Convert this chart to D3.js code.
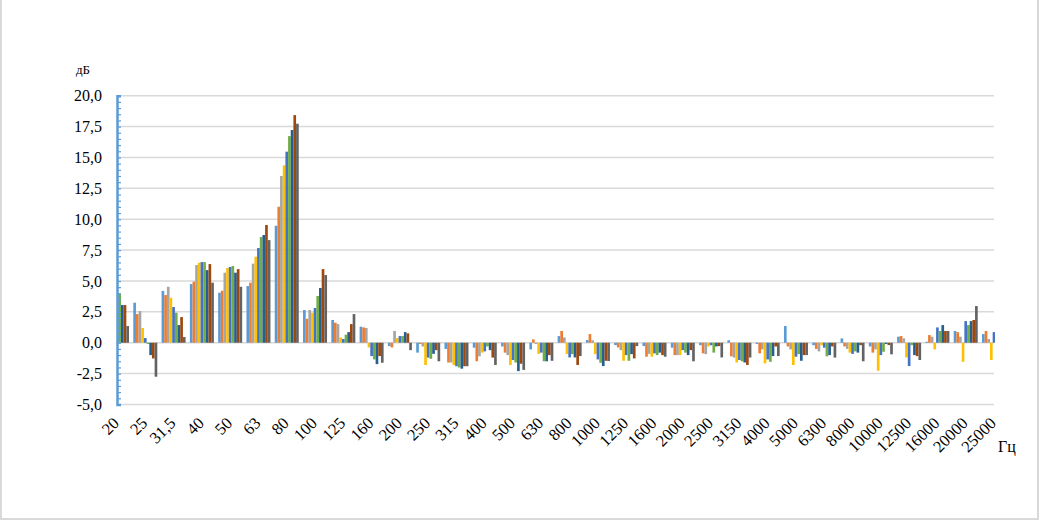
<!doctype html>
<html>
<head>
    <title>Spectrum difference</title>
    <script src="https://d3js.org/d3.v7.min.js"></script>
    <style>
      body { margin:0; background:white; }
      text { font-family:"Liberation Serif", "Times New Roman", serif; fill:#000; }
    </style>
</head>
<body>
    <script>
    var width = 1040, height = 522;

    // third-octave bands, Hz
    var freqs = ["20","25","31,5","40","50","63","80","100","125","160","200","250","315","400","500","630",
                 "800","1000","1250","1600","2000","2500","3150","4000","5000","6300","8000","10000","12500","16000","20000","25000"];

    // dB values, one array per series
    var s1 = [3.6,3.24,4.2,4.75,4.05,4.59,9.47,2.65,1.84,1.3,-0.27,-0.8,-0.5,-0.4,-0.3,-0.54,0.54,0.22,-0.19,-0.27,-0.4,-0.2,0.2,-0.1,1.35,-0.2,0.35,-0.3,0.49,0.08,0.95,0.7];
    var s2 = [3.2,2.32,3.86,4.94,4.21,4.86,11.01,1.94,1.62,1.24,-0.38,-0.1,-1.6,-1.5,-0.8,0.27,0.95,0.7,-0.38,-1.13,-1.0,-0.86,-1.1,-0.86,-0.3,-0.5,-0.3,-0.8,0.54,0.62,0.86,0.95];
    var s3 = [3.4,2.56,4.53,6.29,5.67,6.4,13.5,2.65,1.51,1.19,0.95,-0.3,-1.6,-1.1,-1.0,-0.1,0.43,0.2,-0.6,-0.9,-1.0,-0.92,-1.2,-0.54,-0.54,-0.7,-0.5,-0.54,0.35,0.49,0.49,0.3];
    var s4 = [3.0,1.19,3.64,6.48,6.05,6.96,14.36,2.43,0.43,-0.38,0.38,-1.8,-1.8,-0.8,-1.8,-0.9,-0.92,-0.92,-1.46,-1.13,-1.0,-0.3,-1.6,-1.67,-1.8,-0.2,-0.8,-2.27,-1.19,-0.54,-1.54,-1.4];
    var s5 = [3.8,0.38,2.89,6.53,6.13,7.67,15.47,2.81,0.3,-1.08,0.54,-1.2,-1.9,-0.7,-1.4,-0.8,-1.19,-1.35,-1.0,-0.86,-0.6,-0.2,-1.4,-1.35,-1.13,-0.4,-0.9,-1.0,-1.89,1.24,1.75,0.86];
    var s6 = [4.0,-0.1,2.43,6.53,6.21,8.56,16.73,3.78,0.65,-1.35,0.54,-1.3,-2.0,-0.3,-1.6,-1.5,-0.92,-1.62,-1.46,-1.0,-0.8,-0.8,-1.5,-1.54,-0.92,-1.1,-0.7,-0.73,-0.2,0.95,1.43,0.6];
    var s7 = [3.05,-1.0,1.43,5.88,5.67,8.72,17.22,4.43,0.86,-1.73,0.86,-0.9,-2.1,-0.6,-2.3,-1.5,-1.19,-1.89,-0.92,-0.8,-1.0,-0.3,-1.6,-1.08,-1.46,-1.0,-0.8,-0.1,-1.0,1.43,1.75,0.5];
    var s8 = [3.05,-1.27,2.08,6.37,5.96,9.53,18.43,5.96,1.51,-1.08,0.76,-0.6,-1.9,-1.2,-1.7,-1.0,-1.8,-1.46,-1.27,-1.0,-0.6,-0.27,-1.8,-0.3,-1.0,-0.3,-0.2,-0.19,-1.08,0.95,1.84,0.5];
    var s9 = [1.35,-2.75,0.46,4.86,4.53,8.31,17.73,5.48,2.32,-1.62,-0.6,-1.5,-1.9,-1.8,-2.2,-1.46,-1.08,-1.48,-0.27,-1.13,-1.5,-1.19,-1.2,-1.08,-1.0,-1.2,-1.5,-0.94,-1.4,0.95,2.97,0.4];

    var yTicks = [-5,-2.5,0,2.5,5,7.5,10,12.5,15,17.5,20];
    var colors = ["#5B9BD5","#ED7D31","#A5A5A5","#FFC000","#4472C4","#70AD47","#255E91","#9E480E","#636363"];

    var allSeries = [s1,s2,s3,s4,s5,s6,s7,s8,s9];

    var plotLeft = 117, plotRight = 994, plotTop = 95.7, plotBottom = 404.5;

    var svg = d3.select("body").append("svg")
                .attr("width",width)
                .attr("height",height);

    // outer frame
    svg.append("rect")
       .attr("x",1).attr("y",-2)
       .attr("width",1037).attr("height",521)
       .style("fill","none")
       .style("stroke","#D9D9D9")
       .style("stroke-width",2);

    var x = d3.scalePoint().domain(freqs).range([plotLeft,plotRight]).padding(0);
    var xInner = d3.scaleBand().domain(d3.range(allSeries.length)).range([-12,12]).padding(0);
    var y = d3.scaleLinear().domain([-5,20]).range([plotBottom,plotTop]);

    function fmt(v){ return v.toFixed(1).replace(".",","); }

    // gridlines
    svg.append("g").selectAll("line")
       .data(yTicks)
       .enter().append("line")
       .attr("x1",plotLeft).attr("x2",plotRight)
       .attr("y1",function(d){ return y(d); })
       .attr("y2",function(d){ return y(d); })
       .style("stroke","#D9D9D9")
       .style("stroke-width",1.5);

    // bars, clipped to plot area (first and last bands sit on the edges)
    svg.append("clipPath").attr("id","plot")
       .append("rect").attr("x",plotLeft).attr("y",0).attr("width",plotRight-plotLeft+1).attr("height",height);

    var groups = svg.append("g").attr("clip-path","url(#plot)")
       .selectAll("g")
       .data(allSeries)
       .enter().append("g")
       .style("fill",function(d,i){ return colors[i]; });

    groups.each(function(vals,si){
      d3.select(this).selectAll("rect")
        .data(vals)
        .enter().append("rect")
        .attr("x",function(d,i){ return x(freqs[i]) + xInner(si); })
        .attr("width",xInner.bandwidth())
        .attr("y",function(d){ return y(Math.max(0,d)); })
        .attr("height",function(d){ return Math.abs(y(d)-y(0)); });
    });

    // y axis: blue line with minor ticks
    var yAxis = d3.axisRight(y)
                  .tickValues(d3.range(-5,20.01,0.5))
                  .tickSize(4)
                  .tickFormat("");
    var ya = svg.append("g").attr("transform","translate("+plotLeft+",0)").call(yAxis);
    ya.select(".domain").style("stroke","#5B9BD5").style("stroke-width",2.5);
    ya.selectAll(".tick line").style("stroke","#5B9BD5").style("stroke-width",1.2);

    // y tick labels
    svg.append("g").selectAll("text")
       .data(yTicks)
       .enter().append("text")
       .attr("x",102)
       .attr("y",function(d){ return y(d); })
       .attr("dy","0.35em")
       .attr("text-anchor","end")
       .style("font-size","16px")
       .text(fmt);

    // x tick labels, rotated
    svg.append("g").selectAll("text")
       .data(freqs)
       .enter().append("text")
       .attr("transform",function(d){ return "translate("+(x(d)-1)+",420) rotate(-45)"; })
       .attr("text-anchor","end")
       .attr("dy","0.35em")
       .style("font-size","16.5px")
       .text(function(d){ return d; });

    // unit labels
    svg.append("text").attr("x",76).attr("y",74).style("font-size","13px").text("дБ");
    svg.append("text").attr("x",998).attr("y",452).style("font-size","16px").text("Гц");

    </script>
</body>
</html>
